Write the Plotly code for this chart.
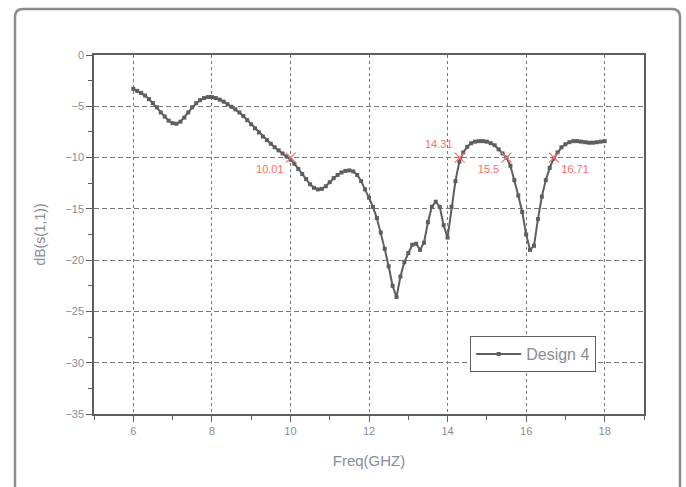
import plotly.graph_objects as go

freq = [round(6 + 0.1 * i, 1) for i in range(121)]
s11 = [
    -3.3, -3.5, -3.7, -3.95, -4.3, -4.7, -5.1, -5.6, -6.0, -6.4,
    -6.65, -6.7, -6.5, -6.1, -5.6, -5.1, -4.7, -4.4, -4.2, -4.1,
    -4.1, -4.2, -4.35, -4.55, -4.8, -5.05, -5.3, -5.6, -5.95, -6.35,
    -6.75, -7.15, -7.55, -7.95, -8.3, -8.65, -9.0, -9.3, -9.6, -9.9,
    -10.2, -10.6, -11.1, -11.6, -12.1, -12.6, -12.95, -13.1, -13.05, -12.8,
    -12.4, -12.0, -11.7, -11.45, -11.3, -11.25, -11.35, -11.7, -12.3, -13.1,
    -13.9, -14.8, -15.9, -17.3, -18.9, -20.6, -22.5, -23.6, -21.6, -20.2,
    -19.3, -18.5, -18.4, -19.0, -18.3, -16.3, -14.8, -14.3, -14.8, -16.6,
    -17.8, -14.8, -12.3, -10.4, -9.5, -8.95, -8.6, -8.45, -8.4, -8.4,
    -8.45, -8.6, -8.8, -9.2, -9.6, -10.0, -10.8, -12.2, -13.7, -15.3,
    -17.5, -19.0, -18.6, -16.0, -13.8, -12.2, -11.0, -10.1, -9.5, -9.0,
    -8.7, -8.5, -8.4, -8.4, -8.45, -8.5, -8.55, -8.55, -8.5, -8.45,
    -8.4,
]

mark_x = [10.01, 14.31, 15.5, 16.71]
mark_y = [-10, -10, -10, -10]
mark_text = ["10.01", "14.31", "15.5", "16.71"]
mark_pos = ["bottom left", "top left", "bottom left", "bottom right"]

x_ticks = [6, 8, 10, 12, 14, 16, 18]
y_ticks = [0, -5, -10, -15, -20, -25, -30, -35]

grey = "#5e5e5e"
label_col = "#878c96"
red = "#ff6b6b"
font = "Liberation Sans, Arial, sans-serif"

fig = go.Figure()
fig.add_trace(go.Scatter(
    x=freq, y=s11, mode="lines+markers", name="Design 4",
    line=dict(color=grey, width=2),
    marker=dict(symbol="square", size=4, color=grey),
))
fig.add_trace(go.Scatter(
    x=mark_x, y=mark_y, mode="markers+text", showlegend=False,
    marker=dict(symbol="x-thin", size=10, line=dict(color=red, width=1.2), color=red),
    text=mark_text, textposition=mark_pos,
    textfont=dict(color=red, size=11, family=font),
))

W, H = 686, 487
L, R, T, B = 94, 644, 55, 414
pw, ph = R - L, B - T

def px(x):
    return (x - L) / pw

def py(y):
    return (B - y) / ph

x0, x1, y0, y1 = 15, 680, 9, 495
r = 8
path = (
    f"M {px(x0 + r)},{py(y0)} L {px(x1 - r)},{py(y0)} "
    f"Q {px(x1)},{py(y0)} {px(x1)},{py(y0 + r)} "
    f"L {px(x1)},{py(y1)} L {px(x0)},{py(y1)} "
    f"L {px(x0)},{py(y0 + r)} Q {px(x0)},{py(y0)} {px(x0 + r)},{py(y0)} Z"
)

fig.update_layout(
    width=W, height=H,
    margin=dict(l=L, r=W - R, t=T, b=H - B),
    paper_bgcolor="white", plot_bgcolor="white",
    font=dict(family=font, color=label_col),
    shapes=[dict(type="path", xref="paper", yref="paper", path=path,
                 line=dict(color="#8c8c8c", width=2.5), layer="below")],
    legend=dict(x=0.684, y=0.167, xanchor="left", yanchor="middle",
                bgcolor="white", bordercolor=grey, borderwidth=1,
                itemwidth=45,
                font=dict(size=16, color=label_col, family=font)),
    xaxis=dict(range=[5, 19], tickvals=x_ticks, ticks="outside", ticklen=6,
               tickcolor=grey, showline=True, linecolor=grey, linewidth=1.5, mirror=True,
               showgrid=True, gridcolor="#777", griddash="3px,3px", gridwidth=1,
               zeroline=False, tickfont=dict(size=11, color=label_col),
               minor=dict(tickvals=[5, 7, 9, 11, 13, 15, 17, 19], ticks="outside",
                          ticklen=4, tickcolor=grey, showgrid=False),
               title=dict(text="Freq(GHZ)", font=dict(size=15, color=label_col), standoff=20)),
    yaxis=dict(range=[-35, 0], tickvals=y_ticks, ticks="outside", ticklen=6,
               tickcolor=grey, showline=True, linecolor=grey, linewidth=1.5, mirror=True,
               showgrid=True, gridcolor="#777", griddash="5px,3px", gridwidth=1,
               zeroline=False, tickfont=dict(size=11, color=label_col),
               minor=dict(dtick=2.5, ticks="outside", ticklen=4, tickcolor=grey, showgrid=False),
               title=dict(text="dB(s(1,1))", font=dict(size=14, color=label_col), standoff=16)),
)

fig.write_html("out.html")
